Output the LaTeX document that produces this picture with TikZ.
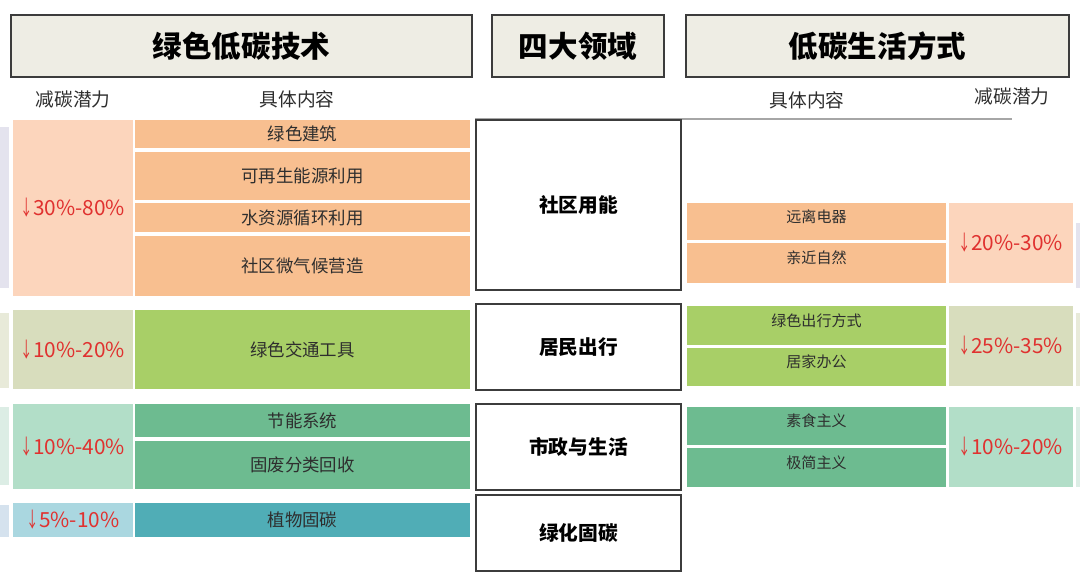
\documentclass[tikz,border=0pt]{standalone}
\usepackage{fontspec}
\setmainfont{Noto Sans CJK SC}
\usetikzlibrary{positioning}

\definecolor{hdrfill}{HTML}{EEEDE4}
\definecolor{hdrline}{HTML}{3C3C3C}
\definecolor{txtdark}{HTML}{2E2E2E}
\definecolor{redtxt}{HTML}{E0312F}
\definecolor{orgA}{HTML}{F8BF90}
\definecolor{orgB}{HTML}{FCD5BC}
\definecolor{grnA}{HTML}{A8CF67}
\definecolor{grnB}{HTML}{D8DDBD}
\definecolor{tealA}{HTML}{6DBB90}
\definecolor{tealB}{HTML}{B2DEC8}
\definecolor{blueA}{HTML}{50ADB6}
\definecolor{blueB}{HTML}{AAD7E0}

% narrow down arrow in front of the percentages
\newcommand\dn{\scalebox{0.6}[1]{↓}}
% box node given by its corners: name, x1, y1, x2, y2, options, text
\newcommand\cellbox[7]{\node[cell,#6,minimum width={(#4-#2)*0.025cm},minimum height={(#5-#3)*0.025cm}] (#1) at ({(#2+#4)/2},{(#3+#5)/2}) {#7};}

\begin{document}
\begin{tikzpicture}[x=0.025cm, y=-0.025cm,
    cell/.style={rectangle, inner sep=0pt, outer sep=0pt, text=txtdark, font=\fontsize{12.4}{14}\selectfont},
    pct/.style={text=redtxt, font=\fontsize{14.8}{16}\selectfont},
    lifetext/.style={font=\fontsize{10.7}{12}\selectfont, text depth=8pt},
    headbox/.style={fill=hdrfill, draw=hdrline, line width=1.3pt, text=black, font=\fontsize{21}{24}\bfseries\selectfont},
    areabox/.style={fill=white, draw=hdrline, line width=1.3pt, text=black, font=\fontsize{14}{16}\bfseries\selectfont},
    colhead/.style={text=txtdark, inner sep=0pt, font=\fontsize{13.3}{15}\selectfont}]
    \useasboundingbox (0,0) rectangle (1080,583);

    % slivers at the page edges
    \foreach \ya/\yb/\col in {127/288/E4E3EE, 313/388/E8EAD9, 407/485/DCEDE5, 505/537/D5E2EE}
        {\definecolor{strip}{HTML}{\col}\fill[strip] (0,\ya) rectangle (9,\yb);}
    \foreach \ya/\yb/\col in {223/288/E4E3EE, 313/386/E8EAD9, 407/487/DCEDE5}
        {\definecolor{strip}{HTML}{\col}\fill[strip] (1076,\ya) rectangle (1080,\yb);}

    % headers
    \cellbox{tech}{11}{15}{472}{77}{headbox}{绿色低碳技术}
    \cellbox{area}{492}{15}{664}{77}{headbox}{四大领域}
    \cellbox{life}{686}{15}{1069}{77}{headbox}{低碳生活方式}

    \node[colhead] (lpot) at (73,99) {减碳潜力};
    \node[colhead] (lcon) at (297,99) {具体内容};
    \node[colhead] (rcon) at (807,100) {具体内容};
    \node[colhead] (rpot) at (1012,96) {减碳潜力};
    \draw[gray!70, line width=0.8pt] (475,119) -- (1012,119);

    % left: potential
    \foreach \nm/\ya/\yb/\col/\txt in {lp1/120/296/orgB/\dn30\%-80\%, lp2/310/389/grnB/\dn10\%-20\%,
        lp3/404/489/tealB/\dn10\%-40\%, lp4/503/537/blueB/\dn5\%-10\%}
        {\cellbox{\nm}{13}{\ya}{133}{\yb}{pct, fill=\col}{\txt}}

    % left: content
    \foreach \nm/\ya/\yb/\col/\txt in {lc1/120/148/orgA/绿色建筑, lc2/152/200/orgA/可再生能源利用,
        lc3/203/232/orgA/水资源循环利用, lc4/236/296/orgA/社区微气候营造, lc5/310/389/grnA/绿色交通工具,
        lc6/404/437/tealA/节能系统, lc7/441/489/tealA/固废分类回收, lc8/503/537/blueA/植物固碳}
        {\cellbox{\nm}{135}{\ya}{470}{\yb}{fill=\col}{\txt}}

    % four domains
    \foreach \nm/\ya/\yb/\txt in {d1/120/290/社区用能, d2/304/390/居民出行, d3/404/490/市政与生活, d4/495/571/绿化固碳}
        {\cellbox{\nm}{476}{\ya}{681}{\yb}{areabox}{\txt}}

    % right: content
    \foreach \nm/\ya/\yb/\col/\txt in {rc1/203/240/orgA/远离电器, rc2/243/283/orgA/亲近自然,
        rc3/306/345/grnA/绿色出行方式, rc4/348/386/grnA/居家办公,
        rc5/407/445/tealA/素食主义, rc6/448/487/tealA/极简主义}
        {\cellbox{\nm}{687}{\ya}{946}{\yb}{lifetext, fill=\col}{\txt}}

    % right: potential
    \foreach \nm/\ya/\yb/\col/\txt in {rp1/203/283/orgB/\dn20\%-30\%, rp2/306/386/grnB/\dn25\%-35\%,
        rp3/407/487/tealB/\dn10\%-20\%}
        {\cellbox{\nm}{949}{\ya}{1073}{\yb}{pct, fill=\col}{\txt}}
\end{tikzpicture}
\end{document}
